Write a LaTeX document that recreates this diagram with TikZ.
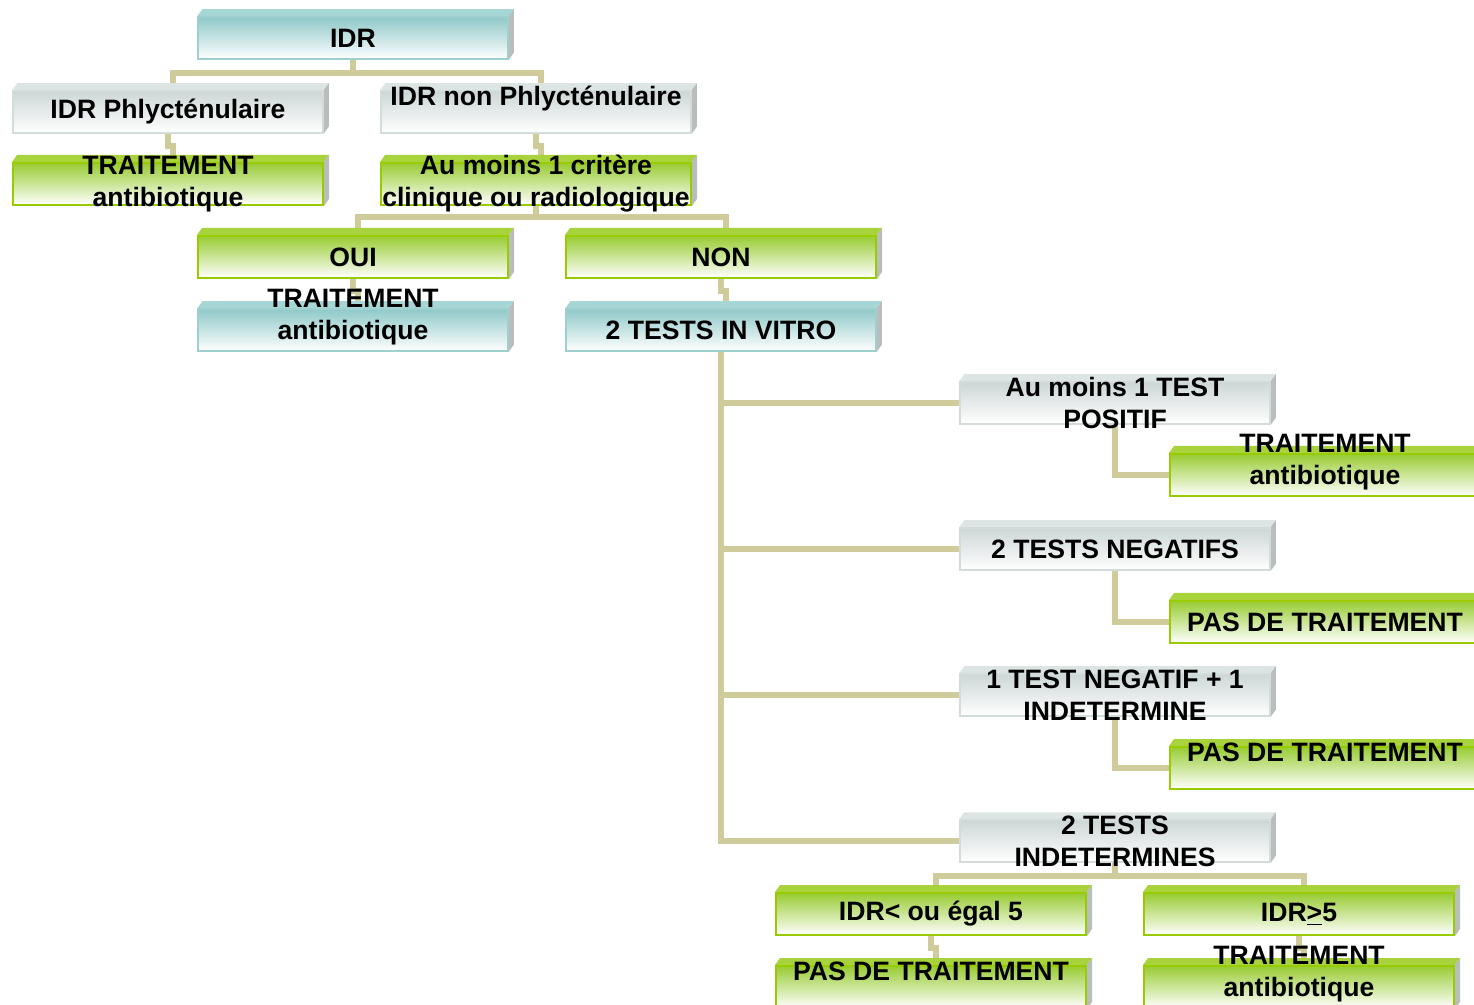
\documentclass[tikz,border=0pt]{standalone}
\usepackage{fontspec}
\setmainfont{Liberation Sans}
\usepackage{tikz}
\usetikzlibrary{calc,positioning}
\pgfdeclarelayer{links}
\pgfdeclarelayer{bevel}
\pgfsetlayers{links,bevel,main}

\definecolor{linkC}{HTML}{CFCB9A}
\definecolor{tealA}{HTML}{8FC8C8}
\definecolor{tealE}{HTML}{9FD0D0}
\definecolor{tealB}{HTML}{A6D6D6}
\definecolor{greyA}{HTML}{CDD6D6}
\definecolor{greyE}{HTML}{D3DBDB}
\definecolor{greyB}{HTML}{DDE4E4}
\definecolor{greenA}{HTML}{99CC33}
\definecolor{greenE}{HTML}{99CC00}
\definecolor{greenB}{HTML}{A8D33C}
\definecolor{sideC}{HTML}{B9BDBD}

\tikzset{
  box/.style={rectangle,minimum width=155pt,minimum height=21pt,inner sep=0pt},
  lbl/.style={inner sep=0pt,align=center,font=\fontsize{13.3}{16}\selectfont\bfseries},
  txt/.style={label={[lbl]center:{#1}}},
  tealbox/.style={box,draw=tealE,line width=0.75pt,top color=tealA,bottom color=white},
  greybox/.style={box,draw=greyE,line width=0.75pt,top color=greyA,bottom color=white},
  greenbox/.style={box,draw=greenE,line width=1pt,top color=greenA,bottom color=white},
  link/.style={draw=linkC,line width=3pt},
}

\begin{document}
\begin{tikzpicture}[x=0.5pt,y=-0.5pt]
  \useasboundingbox (0,0) rectangle (1474,1005);
  \clip (0,0) rectangle (1474,1005);
  % top of the tree
  \node[tealbox,txt={IDR}]  (idr)     at (353,38)  {};
  \node[greybox,txt={IDR Phlycténulaire}]  (phly)    at (168,112) {};
  \node[greybox,txt={IDR non Phlycténulaire\\~}]  (nonphly) at (536,112) {};
  \node[greenbox,txt={TRAITEMENT\\antibiotique}] (treat1)  at (168,184) {};
  \node[greenbox,txt={Au moins 1 critère\\clinique ou radiologique}] (critere) at (536,184) {};
  \node[greenbox,txt={OUI}] (oui)     at (353,257) {};
  \node[greenbox,txt={NON}] (non)     at (721,257) {};
  \node[tealbox,txt={TRAITEMENT\\antibiotique\\~}]  (treat2)  at (353,330) {};
  \node[tealbox,txt={2 TESTS IN VITRO}]  (vitro)   at (721,330) {};
  % results of the tests
  \node[greybox,txt={Au moins 1 TEST\\POSITIF}]  (pos)     at (1115,403) {};
  \node[greenbox,txt={TRAITEMENT\\antibiotique\\~}] (treat3)  at (1325,475) {};
  \node[greybox,txt={2 TESTS NEGATIFS}]  (neg)     at (1115,549) {};
  \node[greenbox,txt={PAS DE TRAITEMENT}] (pas1)    at (1325,622) {};
  \node[greybox,txt={1 TEST NEGATIF + 1\\INDETERMINE}]  (negind)  at (1115,695) {};
  \node[greenbox,txt={PAS DE TRAITEMENT\\~}] (pas2)    at (1325,768) {};
  \node[greybox,txt={2 TESTS\\INDETERMINES}]  (ind)     at (1115,841) {};
  \node[greenbox,txt={IDR< ou égal 5}] (idrle)   at (931,914)  {};
  \node[greenbox,txt={IDR\underline{>}5}] (idrge)   at (1299,914) {};
  \node[greenbox,txt={PAS DE TRAITEMENT\\~}] (pas3)    at (931,987)  {};
  \node[greenbox,txt={TRAITEMENT\\antibiotique\\~}] (treat4)  at (1299,987) {};

  % 3d edges
  \begin{pgfonlayer}{bevel}
    \foreach \n/\c in {idr/tealB,phly/greyB,nonphly/greyB,treat1/greenB,critere/greenB,
        oui/greenB,non/greenB,treat2/tealB,vitro/tealB,pos/greyB,treat3/greenB,neg/greyB,
        pas1/greenB,negind/greyB,pas2/greenB,ind/greyB,idrle/greenB,idrge/greenB,
        pas3/greenB,treat4/greenB}{
      \fill[\c] (\n.north west) -- ++(5,-7) -- ($(\n.north east)+(5,-7)$) -- (\n.north east) -- cycle;
      \fill[sideC] (\n.north east) -- ++(5,-7) -- ($(\n.south east)+(5,-7)$) -- (\n.south east) -- cycle;
    }
  \end{pgfonlayer}

  % connectors
  \begin{pgfonlayer}{links}
    \draw[link] (idr.south) -- ++(0,13) -| ($(phly.north)+(5,0)$);
    \draw[link] (idr.south) -- ++(0,13) -| ($(nonphly.north)+(5,0)$);
    \draw[link] (phly.south) -- ++(0,12) -| ($(treat1.north)+(5,0)$);
    \draw[link] (nonphly.south) -- ++(0,12) -| ($(critere.north)+(5,0)$);
    \draw[link] (critere.south) -- ++(0,11) -| ($(oui.north)+(5,0)$);
    \draw[link] (critere.south) -- ++(0,11) -| ($(non.north)+(5,0)$);
    \draw[link] (oui.south) -- ++(0,12) -| ($(treat2.north)+(5,0)$);
    \draw[link] (non.south) -- ++(0,12) -| ($(vitro.north)+(5,0)$);
    \foreach \t in {pos,neg,negind,ind}
      \draw[link] (vitro.south) |- (\t.west);
    \draw[link] (pos.south) |- (treat3.west);
    \draw[link] (neg.south) |- (pas1.west);
    \draw[link] (negind.south) |- (pas2.west);
    \draw[link] (ind.south) -- ++(0,13) -| ($(idrle.north)+(5,0)$);
    \draw[link] (ind.south) -- ++(0,13) -| ($(idrge.north)+(5,0)$);
    \draw[link] (idrle.south) -- ++(0,12) -| ($(pas3.north)+(5,0)$);
    \draw[link] (idrge.south) -- ++(0,12) -| ($(treat4.north)+(5,0)$);
  \end{pgfonlayer}
\end{tikzpicture}
\end{document}
